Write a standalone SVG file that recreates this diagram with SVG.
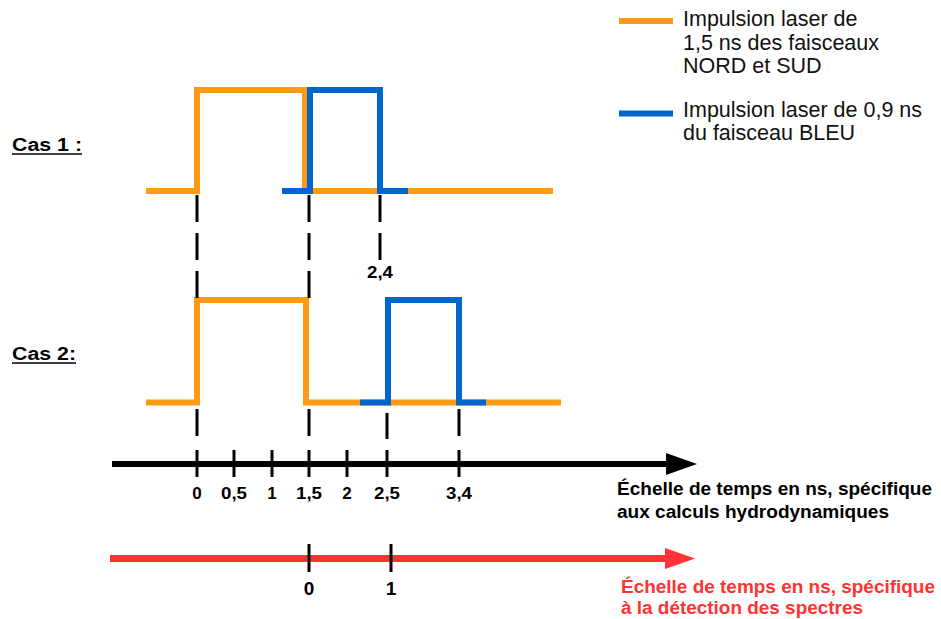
<svg xmlns="http://www.w3.org/2000/svg" width="941" height="619" viewBox="0 0 941 619">
<style>
text{font-family:"Liberation Sans",Arial,sans-serif}
.b{font-weight:bold}
.lg{font-size:21.5px;fill:#111}
.or{fill:none;stroke:#FF9A14;stroke-width:6;stroke-linejoin:miter;stroke-linecap:butt}
.bl{fill:none;stroke:#0066CC;stroke-width:6;stroke-linejoin:miter;stroke-linecap:butt}
.dash{stroke:#000;stroke-width:3;stroke-dasharray:27 11;fill:none}
.tick{stroke:#000;stroke-width:3}
.ax{font-size:17px;font-weight:bold;fill:#000;text-anchor:middle}
.axr{font-size:19px;font-weight:bold;fill:#000;text-anchor:middle}
.cas{font-size:18px;font-weight:bold;fill:#000}
.desc{font-size:18px;font-weight:bold}
</style>
<rect width="941" height="619" fill="#fff"/>

<g id="legend">
  <line x1="619" y1="21" x2="673" y2="21" stroke="#FF9A14" stroke-width="6"/>
  <text class="lg" x="683" y="26">Impulsion laser de</text>
  <text class="lg" x="683" y="49.5">1,5 ns des faisceaux</text>
  <text class="lg" x="683" y="73">NORD et SUD</text>
  <line x1="619" y1="113.5" x2="673" y2="113.5" stroke="#0066CC" stroke-width="6"/>
  <text class="lg" x="683" y="117">Impulsion laser de 0,9 ns</text>
  <text class="lg" x="683" y="140">du faisceau BLEU</text>
</g>

<g id="cas1-label">
  <text class="cas" x="12" y="151" textLength="70" lengthAdjust="spacingAndGlyphs">Cas 1 :</text>
  <line x1="12" y1="154" x2="82" y2="154" stroke="#000" stroke-width="1.6"/>
</g>
<g id="cas2-label">
  <text class="cas" x="12" y="360" textLength="64" lengthAdjust="spacingAndGlyphs">Cas 2:</text>
  <line x1="12" y1="363" x2="76" y2="363" stroke="#000" stroke-width="1.6"/>
</g>

<g id="cas1-pulses">
  <path class="or" d="M146,191 H197 V90 H305 V191 H553"/>
  <path class="bl" d="M282,191 H310 V90 H380 V191 H408"/>
</g>
<g id="cas2-pulses">
  <path class="or" d="M146,402.5 H197 V300 H306 V402.5 H561"/>
  <path class="bl" d="M360,402.5 H388 V300 H459 V402.5 H486"/>
</g>

<g id="connectors">
  <line class="dash" x1="197" y1="195" x2="197" y2="298"/>
  <line class="dash" x1="309" y1="195" x2="309" y2="298"/>
  <line class="dash" x1="380" y1="195" x2="380" y2="260"/>
  <line class="dash" x1="197" y1="409" x2="197" y2="437"/>
  <line class="dash" x1="309" y1="409" x2="309" y2="437"/>
  <line class="dash" x1="387" y1="413" x2="387" y2="439"/>
  <line class="dash" x1="459" y1="409" x2="459" y2="437"/>
</g>

<g id="label-2-4">
  <text class="ax" x="380" y="278" textLength="26" lengthAdjust="spacingAndGlyphs">2,4</text>
</g>

<g id="axis-hydro">
  <line x1="112" y1="464" x2="668" y2="464" stroke="#000" stroke-width="6"/>
  <polygon points="666,453 697,464 666,475" fill="#000"/>
  <line class="tick" x1="197" y1="450" x2="197" y2="477"/>
  <line class="tick" x1="234" y1="450" x2="234" y2="477"/>
  <line class="tick" x1="272" y1="450" x2="272" y2="477"/>
  <line class="tick" x1="309" y1="450" x2="309" y2="477"/>
  <line class="tick" x1="347" y1="450" x2="347" y2="477"/>
  <line class="tick" x1="387" y1="450" x2="387" y2="477"/>
  <line class="tick" x1="459" y1="450" x2="459" y2="477"/>
  <text class="ax" x="197" y="499">0</text>
  <text class="ax" x="234" y="499" textLength="26" lengthAdjust="spacingAndGlyphs">0,5</text>
  <text class="ax" x="272" y="499">1</text>
  <text class="ax" x="309" y="499" textLength="26" lengthAdjust="spacingAndGlyphs">1,5</text>
  <text class="ax" x="347" y="499">2</text>
  <text class="ax" x="387" y="499" textLength="26" lengthAdjust="spacingAndGlyphs">2,5</text>
  <text class="ax" x="459" y="499" textLength="26" lengthAdjust="spacingAndGlyphs">3,4</text>
  <text class="desc" x="617" y="495" fill="#000" textLength="315" lengthAdjust="spacingAndGlyphs">Échelle de temps en ns, spécifique</text>
  <text class="desc" x="617" y="518" fill="#000" textLength="272" lengthAdjust="spacingAndGlyphs">aux calculs hydrodynamiques</text>
</g>

<g id="axis-detection">
  <line x1="110" y1="558.5" x2="667" y2="558.5" stroke="#FF3333" stroke-width="7"/>
  <polygon points="665,548 695,558.5 665,569" fill="#FF3333"/>
  <line class="tick" x1="309" y1="544" x2="309" y2="572"/>
  <line class="tick" x1="391" y1="544" x2="391" y2="572"/>
  <text class="axr" x="309" y="595">0</text>
  <text class="axr" x="391" y="595">1</text>
  <text class="desc" x="621" y="593" fill="#FF3333" textLength="314" lengthAdjust="spacingAndGlyphs">Échelle de temps en ns, spécifique</text>
  <text class="desc" x="621" y="614" fill="#FF3333" textLength="242" lengthAdjust="spacingAndGlyphs">à la détection des spectres</text>
</g>
</svg>
